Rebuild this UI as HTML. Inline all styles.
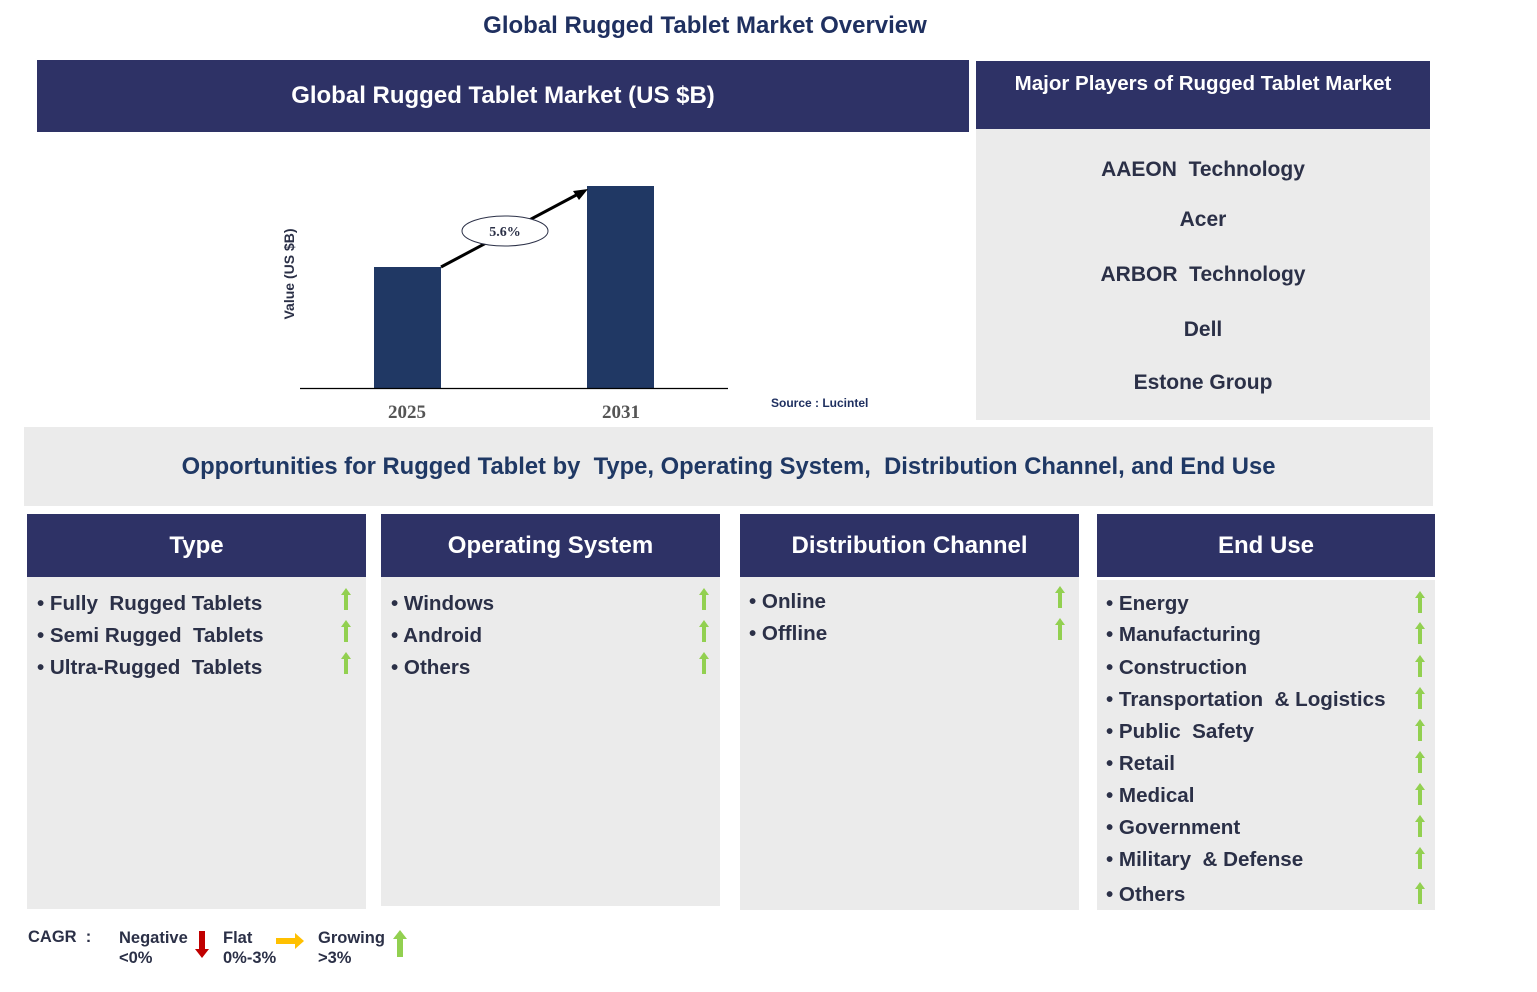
<!DOCTYPE html>
<html><head><meta charset="utf-8"><style>
*{margin:0;padding:0;box-sizing:border-box}
body{width:1537px;height:992px;background:#fff;position:relative;font-family:"Liberation Sans",Arial,sans-serif;color:#2b3047;overflow:hidden}
.a{position:absolute}
.hdr{background:#2e3266;color:#fff;font-weight:bold;display:flex;align-items:center;justify-content:center}
.gray{background:#ebebeb}
.it{position:absolute;font-weight:bold;font-size:20.6px;white-space:nowrap}
.ar{position:absolute;width:10px;height:22px}
.pl{position:absolute;left:0;width:454px;text-align:center;font-weight:bold;font-size:21px}
</style></head><body>
<div class="a" style="left:0;width:1410px;top:12px;text-align:center;font-weight:bold;font-size:24px;color:#1f3060">Global Rugged Tablet Market Overview</div>

<div class="a hdr" style="left:37px;top:60px;width:932px;height:72px;font-size:24px">Global Rugged Tablet Market (US $B)</div>

<svg class="a" style="left:270px;top:170px" width="620" height="255">
<rect x="104" y="97" width="67" height="121" fill="#203864"/>
<rect x="317" y="16" width="67" height="202" fill="#203864"/>
<line x1="30" y1="218.5" x2="458" y2="218.5" stroke="#000" stroke-width="1.2"/>
<line x1="171" y1="97" x2="312" y2="22" stroke="#000" stroke-width="3"/>
<polygon points="318,19 303,21 309,30" fill="#000"/>
<ellipse cx="235" cy="61" rx="43" ry="15" fill="#fff" stroke="#2b3047" stroke-width="1"/>
<text x="235" y="66" text-anchor="middle" font-family="Liberation Serif" font-weight="bold" font-size="14" fill="#2b3047">5.6%</text>
<text transform="translate(24,104) rotate(-90)" text-anchor="middle" font-weight="bold" font-size="14" fill="#2b3047">Value (US $B)</text>
<text x="137" y="248" text-anchor="middle" font-family="Liberation Serif" font-weight="bold" font-size="19" fill="#555">2025</text>
<text x="351" y="248" text-anchor="middle" font-family="Liberation Serif" font-weight="bold" font-size="19" fill="#555">2031</text>
<text x="501" y="237" font-weight="bold" font-size="12" fill="#1f3060">Source : Lucintel</text>
</svg>

<div class="a hdr" style="left:976px;top:61px;width:454px;height:68px;font-size:20.5px;align-items:flex-start;padding-top:11px">Major Players of Rugged Tablet Market</div>
<div class="a gray" style="left:976px;top:129px;width:454px;height:291px">
<div class="pl" style="top:29px">AAEON&nbsp; Technology</div>
<div class="pl" style="top:79px">Acer</div>
<div class="pl" style="top:134px">ARBOR&nbsp; Technology</div>
<div class="pl" style="top:189px">Dell</div>
<div class="pl" style="top:242px">Estone Group</div>
</div>

<div class="a gray" style="left:24px;top:427px;width:1409px;height:79px;display:flex;align-items:center;justify-content:center;font-weight:bold;font-size:23.8px;color:#1f3864">Opportunities for Rugged Tablet by&nbsp; Type, Operating System,&nbsp; Distribution Channel, and End Use</div>

<div class="a hdr" style="left:27px;top:514px;width:339px;height:63px;font-size:24px">Type</div>
<div class="a gray" style="left:27px;top:577px;width:339px;height:332px"></div>
<div class="a hdr" style="left:381px;top:514px;width:339px;height:63px;font-size:24px">Operating System</div>
<div class="a gray" style="left:381px;top:577px;width:339px;height:329px"></div>
<div class="a hdr" style="left:740px;top:514px;width:339px;height:63px;font-size:24px">Distribution Channel</div>
<div class="a gray" style="left:740px;top:577px;width:339px;height:333px"></div>
<div class="a hdr" style="left:1097px;top:514px;width:338px;height:63px;font-size:24px">End Use</div>
<div class="a gray" style="left:1097px;top:580px;width:338px;height:330px"></div>

<div id="items"></div>
<script>
var up='<svg viewBox="0 0 10 22" width="10" height="22"><polygon points="5,0 10,7 7,7 7,22 3,22 3,7 0,7" fill="#92d050"/></svg>';
function col(x,ax,items,y0,dy){var h='';items.forEach(function(t,i){var y=y0+i*dy;h+='<div class="it" style="left:'+x+'px;top:'+(y-10)+'px">• '+t+'</div><div class="ar" style="left:'+ax+'px;top:'+(y-14)+'px">'+up+'</div>';});return h;}
var h='';
h+=col(37,341,['Fully&nbsp; Rugged Tablets','Semi Rugged&nbsp; Tablets','Ultra-Rugged&nbsp; Tablets'],602,32);
h+=col(391,699,['Windows','Android','Others'],602,32);
h+=col(749,1055,['Online','Offline'],600,32);
var eu=['Energy','Manufacturing','Construction','Transportation&nbsp; &amp; Logistics','Public&nbsp; Safety','Retail','Medical','Government','Military&nbsp; &amp; Defense','Others'];
var ys=[602,633,666,698,730,762,794,826,858,893];
eu.forEach(function(t,i){h+='<div class="it" style="left:1106px;top:'+(ys[i]-10)+'px">• '+t+'</div><div class="ar" style="left:1415px;top:'+(ys[i]-11)+'px">'+up+'</div>';});
document.getElementById('items').innerHTML=h;
</script>

<div class="a" style="left:28px;top:928px;font-weight:bold;font-size:16.5px">CAGR&nbsp; :</div>
<div class="a" style="left:119px;top:928px;font-weight:bold;font-size:16.5px;line-height:20px">Negative<br>&lt;0%</div>
<svg class="a" style="left:195px;top:931px" width="14" height="28"><polygon points="4,0 10,0 10,18 14,18 7,27 0,18 4,18" fill="#c00000"/></svg>
<div class="a" style="left:223px;top:928px;font-weight:bold;font-size:16.5px;line-height:20px">Flat<br>0%-3%</div>
<svg class="a" style="left:276px;top:933px" width="28" height="16"><polygon points="0,5 19,5 19,0 28,8 19,16 19,11 0,11" fill="#ffc000"/></svg>
<div class="a" style="left:318px;top:928px;font-weight:bold;font-size:16.5px;line-height:20px">Growing<br>&gt;3%</div>
<svg class="a" style="left:393px;top:930px" width="14" height="27"><polygon points="7,0 14,9 10,9 10,27 4,27 4,9 0,9" fill="#92d050"/></svg>
</body></html>
